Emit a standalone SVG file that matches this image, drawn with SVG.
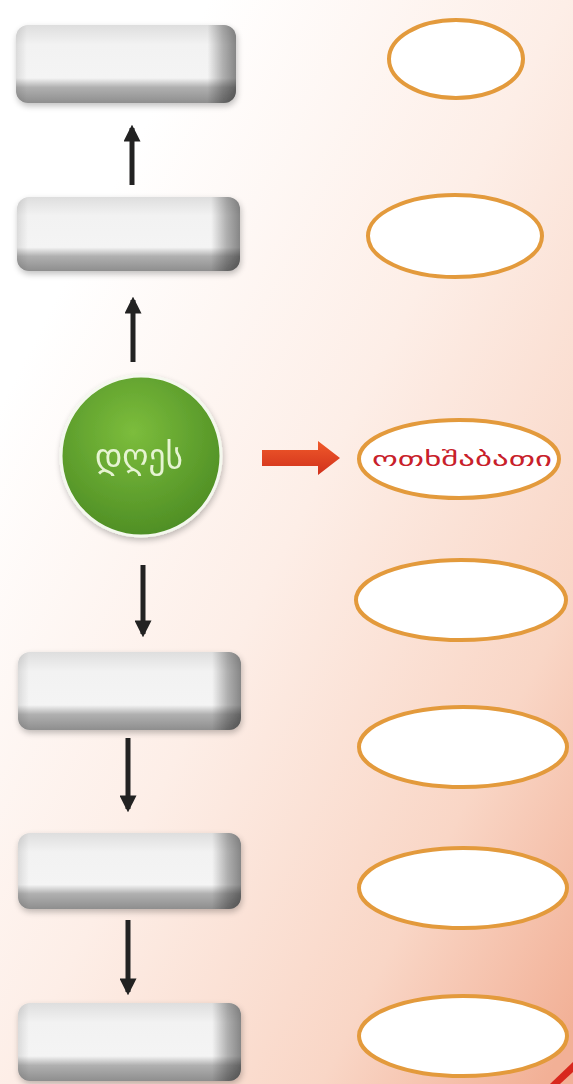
<svg xmlns="http://www.w3.org/2000/svg" width="573" height="1084" viewBox="0 0 573 1084">
<defs>
<linearGradient id="bg" x1="0.15" y1="0.22" x2="0.95" y2="1">
<stop offset="0" stop-color="#ffffff"/>
<stop offset="0.4" stop-color="#fdeee7"/>
<stop offset="0.75" stop-color="#f9d6c6"/>
<stop offset="1" stop-color="#f2b096"/>
</linearGradient>
<linearGradient id="boxV" x1="0" y1="0" x2="0" y2="1">
<stop offset="0" stop-color="#dedede"/>
<stop offset="0.25" stop-color="#f2f2f2"/>
<stop offset="0.68" stop-color="#f4f4f4"/>
<stop offset="0.8" stop-color="#b0b0b0"/>
<stop offset="1" stop-color="#8e8e8e"/>
</linearGradient>
<linearGradient id="boxH" x1="0" y1="0" x2="1" y2="0">
<stop offset="0" stop-color="#000" stop-opacity="0.1"/>
<stop offset="0.05" stop-color="#000" stop-opacity="0"/>
<stop offset="0.87" stop-color="#000" stop-opacity="0"/>
<stop offset="0.94" stop-color="#000" stop-opacity="0.28"/>
<stop offset="1" stop-color="#000" stop-opacity="0.45"/>
</linearGradient>
<radialGradient id="green" cx="0.45" cy="0.35" r="0.65">
<stop offset="0" stop-color="#7cbd3c"/>
<stop offset="1" stop-color="#4f8f25"/>
</radialGradient>
<linearGradient id="redArrow" x1="0" y1="0" x2="0" y2="1">
<stop offset="0" stop-color="#f05a2a"/>
<stop offset="1" stop-color="#d0301c"/>
</linearGradient>
<filter id="soft" x="-20%" y="-20%" width="140%" height="140%">
<feGaussianBlur in="SourceAlpha" stdDeviation="3"/>
<feOffset dx="1" dy="3"/>
<feComponentTransfer><feFuncA type="linear" slope="0.25"/></feComponentTransfer>
<feMerge><feMergeNode/><feMergeNode in="SourceGraphic"/></feMerge>
</filter>
<marker id="ah" viewBox="0 0 10 10" refX="8" refY="5" markerWidth="3.4" markerHeight="3.4" orient="auto">
<path d="M0,0 L10,5 L0,10 z" fill="#222"/>
</marker>
</defs>
<style>
.box rect.b{fill:url(#boxV)}
.box rect.s{fill:url(#boxH)}
.ell{fill:#ffffff;stroke:#e39a3c;stroke-width:4}
.conn{stroke:#222;stroke-width:5;fill:none;marker-end:url(#ah)}
</style>
<rect x="0" y="0" width="573" height="1084" fill="url(#bg)"/>

<g id="connectors">
<line class="conn" x1="132" y1="185" x2="132" y2="128"/>
<line class="conn" x1="133" y1="362" x2="133" y2="300"/>
<line class="conn" x1="143" y1="565" x2="143" y2="634"/>
<line class="conn" x1="128" y1="738" x2="128" y2="809"/>
<line class="conn" x1="128" y1="920" x2="128" y2="992"/>
<path d="M262,450 L318,450 L318,441 L340,458 L318,475 L318,466 L262,466 z" fill="url(#redArrow)"/>
</g>

<g id="box1" class="box" filter="url(#soft)"><rect class="b" x="16" y="25" width="220" height="78" rx="12"/><rect class="s" x="16" y="25" width="220" height="78" rx="12"/></g>
<g id="box2" class="box" filter="url(#soft)"><rect class="b" x="17" y="197" width="223" height="74" rx="12"/><rect class="s" x="17" y="197" width="223" height="74" rx="12"/></g>
<g id="box3" class="box" filter="url(#soft)"><rect class="b" x="18" y="652" width="223" height="78" rx="12"/><rect class="s" x="18" y="652" width="223" height="78" rx="12"/></g>
<g id="box4" class="box" filter="url(#soft)"><rect class="b" x="18" y="833" width="223" height="76" rx="12"/><rect class="s" x="18" y="833" width="223" height="76" rx="12"/></g>
<g id="box5" class="box" filter="url(#soft)"><rect class="b" x="18" y="1003" width="223" height="78" rx="12"/><rect class="s" x="18" y="1003" width="223" height="78" rx="12"/></g>

<g id="today" filter="url(#soft)">
<circle cx="141" cy="456" r="80" fill="url(#green)" stroke="#f4f8ee" stroke-width="3"/>
<text x="139" y="468" text-anchor="middle" font-family="DejaVu Sans, sans-serif" font-size="35" fill="#e6f4d2" textLength="88" lengthAdjust="spacingAndGlyphs">დღეს</text>
</g>

<g id="e1"><ellipse class="ell" cx="456" cy="59" rx="67" ry="39"/></g>
<g id="e2"><ellipse class="ell" cx="455" cy="236" rx="87" ry="41"/></g>
<g id="e3"><ellipse class="ell" cx="459" cy="459" rx="100" ry="39"/>
<text x="462" y="466" text-anchor="middle" font-family="DejaVu Sans, sans-serif" font-size="19" fill="#c8202a" textLength="180" lengthAdjust="spacingAndGlyphs">ოთხშაბათი</text></g>
<g id="e4"><ellipse class="ell" cx="461" cy="600" rx="105" ry="40"/></g>
<g id="e5"><ellipse class="ell" cx="463" cy="747" rx="104" ry="40"/></g>
<g id="e6"><ellipse class="ell" cx="463" cy="888" rx="104" ry="40"/></g>
<g id="e7"><ellipse class="ell" cx="463" cy="1036" rx="104" ry="40"/></g>
<path d="M573,1062 L573,1072 L560,1084 L550,1084 z" fill="#d8281e"/>
</svg>
